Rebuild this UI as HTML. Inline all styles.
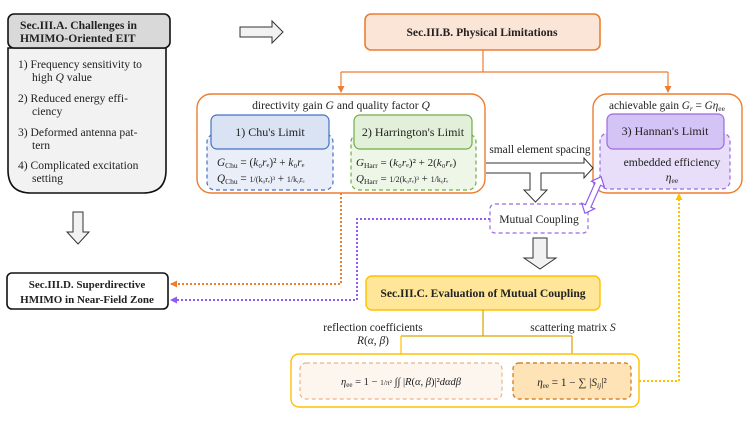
<!DOCTYPE html>
<html><head><meta charset="utf-8"><style>
body{margin:0;background:#fff;}
svg text{font-family:"Liberation Serif",serif;fill:#222;}
</style></head><body>
<svg width="747" height="421" viewBox="0 0 747 421" xmlns="http://www.w3.org/2000/svg">
<defs>
<marker id="ao" markerUnits="userSpaceOnUse" markerWidth="7" markerHeight="7" refX="6" refY="3.5" orient="auto"><path d="M0,0 L7,3.5 L0,7 z" fill="#ed7d31"/></marker>
<marker id="ap" markerUnits="userSpaceOnUse" markerWidth="7" markerHeight="7" refX="6" refY="3.5" orient="auto"><path d="M0,0 L7,3.5 L0,7 z" fill="#8e5cf0"/></marker>
<marker id="ay" markerUnits="userSpaceOnUse" markerWidth="7" markerHeight="7" refX="6" refY="3.5" orient="auto"><path d="M0,0 L7,3.5 L0,7 z" fill="#ffc000"/></marker>
<marker id="ay2" markerUnits="userSpaceOnUse" markerWidth="7" markerHeight="7" refX="6" refY="3.5" orient="auto"><path d="M0,0 L7,3.5 L0,7 z" fill="#d9a400"/></marker>
</defs>

<!-- Box A -->
<path d="M8,48 L166,48 L166,170 Q166,193 143,193 L31,193 Q8,193 8,170 Z" fill="#f2f2f2" stroke="#111" stroke-width="1.6"/>
<rect x="8" y="14" width="162" height="34" rx="6" fill="#d9d9d9" stroke="#111" stroke-width="1.6"/>
<text x="20" y="29" font-size="11.6" font-weight="bold">Sec.III.A. Challenges in</text>
<text x="20" y="42" font-size="11.6" font-weight="bold">HMIMO-Oriented EIT</text>
<g font-size="11.6">
<text x="18" y="68">1) Frequency sensitivity to</text>
<text x="32" y="81">high <tspan font-style="italic">Q</tspan> value</text>
<text x="18" y="102">2) Reduced   energy   effi-</text>
<text x="32" y="115">ciency</text>
<text x="18" y="136">3) Deformed antenna pat-</text>
<text x="32" y="149">tern</text>
<text x="18" y="169">4) Complicated excitation</text>
<text x="32" y="182">setting</text>
</g>

<!-- hollow arrows -->
<path d="M240,27 L272,27 L272,21 L283,32 L272,43 L272,37 L240,37 Z" fill="#f2f2f2" stroke="#333" stroke-width="1"/>
<path d="M73,212 L83,212 L83,232 L89,232 L78,244 L67,232 L73,232 Z" fill="#f2f2f2" stroke="#333" stroke-width="1"/>

<!-- Sec III.B -->
<rect x="365" y="14" width="235" height="36" rx="6" fill="#fbe5d6" stroke="#ed7d31" stroke-width="1.6"/>
<text x="482" y="36" font-size="11.6" font-weight="bold" text-anchor="middle">Sec.III.B. Physical Limitations</text>
<path d="M483,50 L483,72 M341,72 L668,72" stroke="#ed7d31" stroke-width="1.2" fill="none"/>
<path d="M341,72 L341,92" stroke="#ed7d31" stroke-width="1.2" marker-end="url(#ao)"/>
<path d="M668,72 L668,92" stroke="#ed7d31" stroke-width="1.2" marker-end="url(#ao)"/>

<!-- big left orange -->
<rect x="197" y="94" width="288" height="99" rx="14" fill="#fff" stroke="#ed7d31" stroke-width="1.4"/>
<text x="341" y="109" font-size="11.6" text-anchor="middle">directivity gain <tspan font-style="italic">G</tspan> and quality factor <tspan font-style="italic">Q</tspan></text>
<rect x="207" y="134" width="126" height="56" rx="8" fill="#e9eef8" stroke="#4472c4" stroke-width="1.2" stroke-dasharray="4,3"/>
<rect x="211" y="115" width="118" height="34" rx="6" fill="#dae3f3" stroke="#4472c4" stroke-width="1.2"/>
<text x="270" y="136" font-size="12" text-anchor="middle">1) Chu's Limit</text>
<text x="217" y="166" font-size="11.2"><tspan font-style="italic">G</tspan><tspan font-size="7.5" dy="2">Chu</tspan><tspan dy="-2"> = (</tspan><tspan font-style="italic">k</tspan>₀<tspan font-style="italic">r</tspan>ₑ)² + <tspan font-style="italic">k</tspan>₀<tspan font-style="italic">r</tspan>ₑ</text>
<text x="217" y="182" font-size="11.2"><tspan font-style="italic">Q</tspan><tspan font-size="7.5" dy="2">Chu</tspan><tspan dy="-2"> = </tspan><tspan font-size="8">1/(k₀rₑ)³</tspan> + <tspan font-size="8">1/k₀rₑ</tspan></text>

<rect x="351" y="134" width="125" height="56" rx="8" fill="#eef6e8" stroke="#70ad47" stroke-width="1.2" stroke-dasharray="4,3"/>
<rect x="354" y="115" width="118" height="34" rx="6" fill="#e2f0d9" stroke="#70ad47" stroke-width="1.2"/>
<text x="413" y="136" font-size="12" text-anchor="middle">2) Harrington's Limit</text>
<text x="356" y="166" font-size="11"><tspan font-style="italic">G</tspan><tspan font-size="7.5" dy="2">Harr</tspan><tspan dy="-2"> = (</tspan><tspan font-style="italic">k</tspan>₀<tspan font-style="italic">r</tspan>ₑ)² + 2(<tspan font-style="italic">k</tspan>₀<tspan font-style="italic">r</tspan>ₑ)</text>
<text x="356" y="182" font-size="11"><tspan font-style="italic">Q</tspan><tspan font-size="7.5" dy="2">Harr</tspan><tspan dy="-2"> = </tspan><tspan font-size="8">1/2(k₀rₑ)³</tspan> + <tspan font-size="8">1/k₀rₑ</tspan></text>

<!-- right orange -->
<rect x="593" y="94" width="149" height="99" rx="14" fill="#fff" stroke="#ed7d31" stroke-width="1.4"/>
<text x="667" y="109" font-size="11.2" text-anchor="middle">achievable gain <tspan font-style="italic">G<tspan font-size="7.5" dy="2">r</tspan></tspan><tspan dy="-2"> = </tspan><tspan font-style="italic">Gη</tspan><tspan font-size="7.5" dy="2">ee</tspan></text>
<rect x="600" y="133" width="130" height="56" rx="8" fill="#e8defa" stroke="#9c6ade" stroke-width="1.2" stroke-dasharray="4,3"/>
<rect x="607" y="114" width="117" height="35" rx="6" fill="#d4c3f5" stroke="#9c6ade" stroke-width="1.2"/>
<text x="665" y="135" font-size="12" text-anchor="middle">3) Hannan's Limit</text>
<text x="672" y="166" font-size="11.6" text-anchor="middle">embedded efficiency</text>
<text x="672" y="181" font-size="11.6" text-anchor="middle"><tspan font-style="italic">η</tspan><tspan font-size="7.5" dy="2">ee</tspan></text>

<!-- small element spacing -->
<text x="540" y="153" font-size="11.4" text-anchor="middle">small element spacing</text>
<path d="M486,163 L584,163 L584,158 L593,168 L584,178 L584,173 L541,173 L541,190 L547,190 L535.5,202 L524,190 L530,190 L530,173 L486,173" fill="#fff" stroke="#333" stroke-width="1"/>

<!-- Mutual coupling -->
<rect x="490" y="204" width="98" height="29" rx="5" fill="#fff" stroke="#9c6ade" stroke-width="1.2" stroke-dasharray="4,3"/>
<text x="539" y="223" font-size="11.6" text-anchor="middle">Mutual Coupling</text>
<g transform="translate(593,195) rotate(113.8)">
<path d="M-20,0 L-12,-7 L-12,-3 L12,-3 L12,-7 L20,0 L12,7 L12,3 L-12,3 L-12,7 Z" fill="#fff" stroke="#8e5cf0" stroke-width="1.2"/>
</g>

<path d="M533,238 L547,238 L547,258 L556,258 L540,269 L524,258 L533,258 Z" fill="#f2f2f2" stroke="#333" stroke-width="1"/>

<!-- Sec III.C -->
<rect x="366" y="276" width="234" height="34" rx="6" fill="#ffe699" stroke="#ffc000" stroke-width="1.4"/>
<text x="483" y="297" font-size="11.6" font-weight="bold" text-anchor="middle">Sec.III.C. Evaluation of Mutual Coupling</text>
<path d="M483,310 L483,336 M401,336 L572,336" stroke="#d9a400" stroke-width="1.2" fill="none"/>
<path d="M401,336 L401,361" stroke="#ffc000" stroke-width="1.2" marker-end="url(#ay)"/>
<path d="M572,336 L572,361" stroke="#d9a400" stroke-width="1.2" marker-end="url(#ay2)"/>
<text x="373" y="331" font-size="11.4" text-anchor="middle">reflection coefficients</text>
<text x="373" y="344" font-size="11.4" text-anchor="middle"><tspan font-style="italic">R</tspan>(<tspan font-style="italic">α</tspan>, <tspan font-style="italic">β</tspan>)</text>
<text x="573" y="331" font-size="11.4" text-anchor="middle">scattering matrix <tspan font-style="italic">S</tspan></text>

<rect x="291" y="354" width="348" height="53" rx="8" fill="#fff" stroke="#ffc000" stroke-width="1.4"/>
<rect x="300" y="363" width="202" height="36" rx="6" fill="#fdf6ee" stroke="#f4b183" stroke-width="1.2" stroke-dasharray="4,3"/>
<text x="401" y="385" font-size="10.5" text-anchor="middle"><tspan font-style="italic">η</tspan><tspan font-size="7" dy="2">ee</tspan><tspan dy="-2"> = 1 − </tspan><tspan font-size="7.5">1/π²</tspan> ∫∫ |<tspan font-style="italic">R</tspan>(<tspan font-style="italic">α</tspan>, <tspan font-style="italic">β</tspan>)|²<tspan font-style="italic">dαdβ</tspan></text>
<rect x="513" y="363" width="118" height="36" rx="6" fill="#fde3b5" stroke="#d9852e" stroke-width="1.4" stroke-dasharray="4,3"/>
<text x="572" y="386" font-size="11.2" text-anchor="middle"><tspan font-style="italic">η</tspan><tspan font-size="7" dy="2">ee</tspan><tspan dy="-2"> = 1 − ∑ |</tspan><tspan font-style="italic">S</tspan><tspan font-size="7.5" font-style="italic" dy="2">ij</tspan><tspan dy="-2">|²</tspan></text>

<!-- dotted connectors -->
<path d="M639,381 L679,381 L679,194" stroke="#ffc000" stroke-width="2" stroke-dasharray="2,2" fill="none" marker-end="url(#ay)"/>
<path d="M341,193 L341,284 L171,284" stroke="#ed7d31" stroke-width="2" stroke-dasharray="2,2" fill="none" marker-end="url(#ao)"/>
<path d="M490,219 L357,219 L357,300 L171,300" stroke="#8e5cf0" stroke-width="2" stroke-dasharray="2,2" fill="none" marker-end="url(#ap)"/>

<!-- Box D -->
<rect x="7" y="273" width="161" height="36" rx="5" fill="#fff" stroke="#111" stroke-width="1.6"/>
<text x="87" y="288" font-size="11" font-weight="bold" text-anchor="middle">Sec.III.D. Superdirective</text>
<text x="87" y="303" font-size="11" font-weight="bold" text-anchor="middle">HMIMO in Near-Field Zone</text>
</svg>
</body></html>
